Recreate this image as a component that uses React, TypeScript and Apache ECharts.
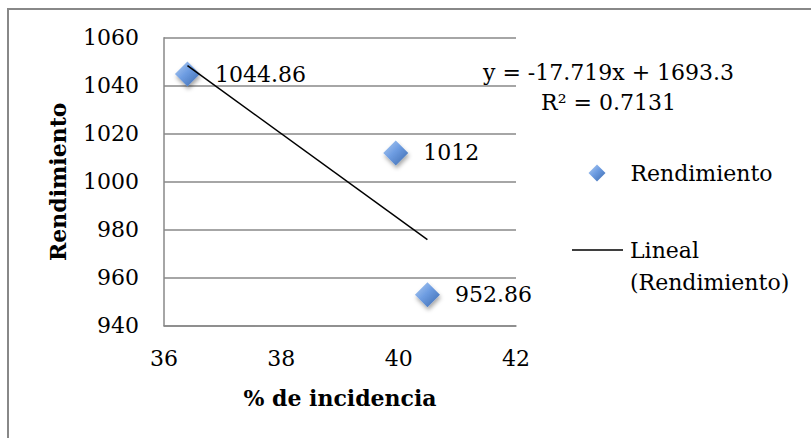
import React, { useEffect, useRef } from "react";
import * as echarts from "echarts";

const seriesName = "Rendimiento";
const trendName = "Lineal (Rendimiento)";
const incidencia = [36.4, 39.95, 40.49];
const rendimiento = [1044.86, 1012, 952.86];
const trendSlope = -17.719;
const trendIntercept = 1693.3;
const equationLines = ["y = -17.719x + 1693.3", "R² = 0.7131"];
const xTicks = { min: 36, max: 42, interval: 2 };
const yTicks = { min: 940, max: 1060, interval: 20 };

const FONT = "DejaVu Serif";
const GRAY = "#888888";
// legend icon for the trend line: a 1.5px bar aligned with the first text line
const LINE_ICON =
  "path://M0,0 H0.01 V0.01 H0 Z M0,15.25 H51 V16.75 H0 Z M0,63.99 H0.01 V64 H0 Z";

export default function App() {
  const ref = useRef<HTMLDivElement>(null);
  useEffect(() => {
    if (!ref.current) return;
    const chart = echarts.init(ref.current, undefined, { renderer: "svg" });
    const points = incidencia.map((x, i) => [x, rendimiento[i]]);
    const xMin = Math.min(...incidencia);
    const xMax = Math.max(...incidencia);
    const trend = [xMin, xMax].map((x) => [x, trendSlope * x + trendIntercept]);
    const diamondFill = new echarts.graphic.LinearGradient(0, 0, 1, 1, [
      { offset: 0, color: "#b4cff2" },
      { offset: 0.45, color: "#6e9de2" },
      { offset: 1, color: "#3b69ad" },
    ]);
    chart.setOption({
      animation: false,
      backgroundColor: "#ffffff",
      textStyle: { fontFamily: FONT },
      grid: { left: 164, top: 37.7, width: 352, height: 288 },
      xAxis: {
        type: "value",
        min: xTicks.min,
        max: xTicks.max,
        interval: xTicks.interval,
        name: "% de incidencia",
        nameLocation: "middle",
        nameGap: 72,
        nameTextStyle: {
          fontFamily: FONT,
          fontSize: 22,
          fontWeight: "bold",
          color: "#000",
          verticalAlign: "middle",
        },
        axisLine: { show: true, lineStyle: { color: GRAY, width: 1.5 } },
        axisTick: { show: false },
        splitLine: { show: false },
        axisLabel: {
          fontFamily: FONT,
          fontSize: 22,
          color: "#000",
          margin: 22,
          formatter: (v: number) => String(v),
        },
      },
      yAxis: {
        type: "value",
        min: yTicks.min,
        max: yTicks.max,
        interval: yTicks.interval,
        name: "Rendimiento",
        nameLocation: "middle",
        nameGap: 106,
        nameTextStyle: {
          fontFamily: FONT,
          fontSize: 22,
          fontWeight: "bold",
          color: "#000",
          verticalAlign: "middle",
        },
        axisLine: { show: true, lineStyle: { color: GRAY, width: 1.5 } },
        axisTick: { show: false },
        splitLine: { show: true, lineStyle: { color: GRAY, width: 1.5 } },
        axisLabel: {
          fontFamily: FONT,
          fontSize: 22,
          color: "#000",
          margin: 25,
          formatter: (v: number) => String(v),
        },
      },
      legend: [
        {
          data: [{ name: seriesName, icon: "diamond", itemStyle: { color: diamondFill, opacity: 1 } }],
          orient: "vertical",
          left: 588.5,
          top: 157,
          padding: 0,
          itemWidth: 17,
          itemHeight: 17,
          textStyle: {
            fontFamily: FONT,
            fontSize: 22,
            color: "#000",
            lineHeight: 32,
            padding: [0, 0, 0, 20],
          },
        },
        {
          data: [{ name: trendName, icon: LINE_ICON, itemStyle: { color: "#000" } }],
          orient: "vertical",
          left: 572,
          top: 234,
          padding: 0,
          itemWidth: 51,
          itemHeight: 64,
          formatter: () => "Lineal\n(Rendimiento)",
          textStyle: {
            fontFamily: FONT,
            fontSize: 22,
            color: "#000",
            lineHeight: 32,
            padding: [0, 0, 0, 2],
          },
        },
      ],
      graphic: [
        {
          type: "rect",
          shape: { x: 8, y: 9, width: 1000, height: 1000 },
          style: { fill: "none", stroke: GRAY, lineWidth: 2 },
          silent: true,
        },
        {
          type: "text",
          x: 608.5,
          y: 72.7,
          style: {
            text: equationLines[0],
            font: `22px "${FONT}"`,
            fill: "#000",
            align: "center",
            verticalAlign: "middle",
          },
        },
        {
          type: "text",
          x: 608.5,
          y: 102.7,
          style: {
            text: equationLines[1],
            font: `22px "${FONT}"`,
            fill: "#000",
            align: "center",
            verticalAlign: "middle",
          },
        },
      ],
      series: [
        {
          name: seriesName,
          type: "scatter",
          symbol: "diamond",
          symbolSize: 25,
          data: points,
          itemStyle: {
            color: diamondFill,
            opacity: 1,
            shadowBlur: 4,
            shadowOffsetX: 1,
            shadowOffsetY: 3,
            shadowColor: "rgba(0,0,0,0.35)",
          },
          label: {
            show: true,
            position: "right",
            distance: 15,
            fontFamily: FONT,
            fontSize: 22,
            color: "#000",
            formatter: (p: any) => String(p.value[1]),
          },
          z: 2,
        },
        {
          name: trendName,
          type: "line",
          data: trend,
          symbol: "none",
          showSymbol: false,
          lineStyle: { color: "#000", width: 1.5 },
          itemStyle: { color: "#000" },
          z: 3,
        },
      ],
    });
    return () => chart.dispose();
  }, []);
  return (
    <div
      ref={ref}
      style={{ position: "absolute", left: 0, top: 0, width: 811, height: 438 }}
    />
  );
}
